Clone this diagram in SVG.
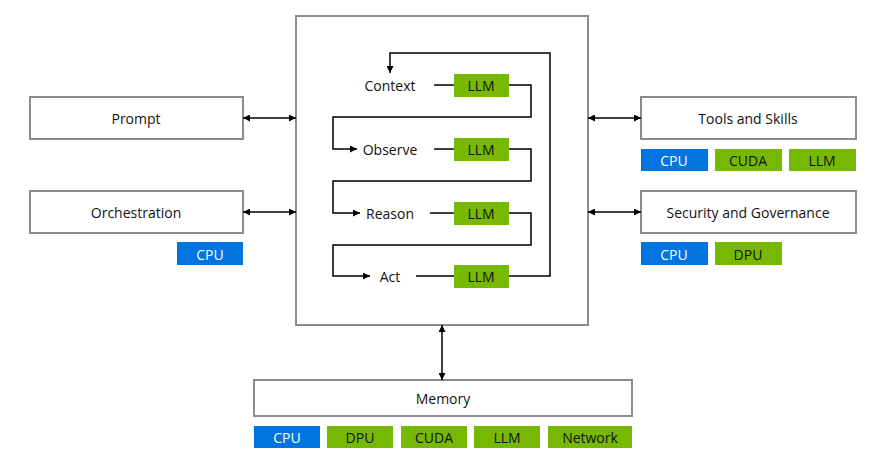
<svg xmlns="http://www.w3.org/2000/svg" width="876" height="456" viewBox="0 0 876 456">
<defs>
<marker id="a" viewBox="0 0 10 10" refX="10" refY="5" markerWidth="7" markerHeight="7" orient="auto-start-reverse" markerUnits="userSpaceOnUse"><path d="M0,0L10,5L0,10z" fill="#000"/></marker>
<style>
.box{fill:#fff;stroke:#8c8c8c;stroke-width:2}
.b{fill:#0074df}.g{fill:#76b900}
text{font-family:"Open Sans","DejaVu Sans",sans-serif;font-size:14px;text-anchor:middle;dominant-baseline:central;fill:#111}
.w{fill:#fff}
.c{fill:none;stroke:#000;stroke-width:1.5}
</style>
</defs>
<rect width="876" height="456" fill="#fff"/>
<g id="agent"><rect class="box" x="296" y="16" width="292" height="309"/></g>
<g id="prompt"><rect class="box" x="30" y="97" width="213" height="42"/><text x="136" y="118">Prompt</text></g>
<g id="orchestration"><rect class="box" x="30" y="191" width="213" height="42"/><text x="136" y="212">Orchestration</text>
<rect class="b" x="177" y="242" width="66" height="23"/><text class="w" x="210" y="254">CPU</text></g>
<g id="tools"><rect class="box" x="641" y="97" width="215" height="42"/><text x="748" y="118">Tools and Skills</text>
<rect class="b" x="641" y="149" width="67" height="22"/><text class="w" x="674" y="160">CPU</text>
<rect class="g" x="715" y="149" width="67" height="22"/><text x="748" y="160">CUDA</text>
<rect class="g" x="789" y="149" width="67" height="22"/><text x="822" y="160">LLM</text></g>
<g id="security"><rect class="box" x="641" y="191" width="215" height="42"/><text x="748" y="212">Security and Governance</text>
<rect class="b" x="641" y="242" width="67" height="23"/><text class="w" x="674" y="254">CPU</text>
<rect class="g" x="715" y="242" width="67" height="23"/><text x="748" y="254">DPU</text></g>
<g id="memory"><rect class="box" x="254" y="380" width="378" height="36"/><text x="443" y="398">Memory</text>
<rect class="b" x="254" y="426" width="66" height="22"/><text class="w" x="287" y="437">CPU</text>
<rect class="g" x="327" y="426" width="66" height="22"/><text x="360" y="437">DPU</text>
<rect class="g" x="401" y="426" width="66" height="22"/><text x="434" y="437">CUDA</text>
<rect class="g" x="474" y="426" width="66" height="22"/><text x="507" y="437">LLM</text>
<rect class="g" x="548" y="426" width="84" height="22"/><text x="590" y="437">Network</text></g>
<g id="steps">
<text x="390" y="85">Context</text><text x="390" y="149">Observe</text><text x="390" y="213">Reason</text><text x="390" y="276">Act</text>
<rect class="g" x="454" y="74" width="55" height="23"/><text x="481" y="85">LLM</text>
<rect class="g" x="454" y="138" width="55" height="23"/><text x="481" y="149">LLM</text>
<rect class="g" x="454" y="202" width="55" height="23"/><text x="481" y="213">LLM</text>
<rect class="g" x="454" y="265" width="55" height="23"/><text x="481" y="276">LLM</text>
</g>
<g id="connectors">
<path class="c" d="M243,118H296" marker-start="url(#a)" marker-end="url(#a)"/>
<path class="c" d="M243,212H296" marker-start="url(#a)" marker-end="url(#a)"/>
<path class="c" d="M588,118H641" marker-start="url(#a)" marker-end="url(#a)"/>
<path class="c" d="M588,212H641" marker-start="url(#a)" marker-end="url(#a)"/>
<path class="c" d="M442,325V380" marker-start="url(#a)" marker-end="url(#a)"/>
<path class="c" d="M434,85H454M509,85H531V117H333V149H357" marker-end="url(#a)"/>
<path class="c" d="M434,149H454M509,149H531V181H333V213H360" marker-end="url(#a)"/>
<path class="c" d="M430,213H454M509,213H531V245H333V276H370" marker-end="url(#a)"/>
<path class="c" d="M416,276H454M509,276H550V53H390V73" marker-end="url(#a)"/>
</g>
</svg>
